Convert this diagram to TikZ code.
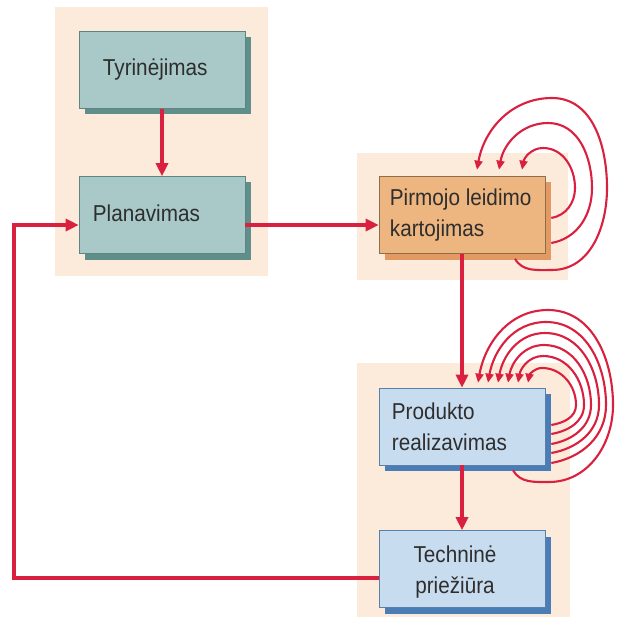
\documentclass[tikz,border=0pt]{standalone}
\usepackage{fontspec}
\newfontfamily\boxfont{Liberation Sans}[FakeStretch=0.9]
\usetikzlibrary{arrows.meta,shadows}

\definecolor{panel}{HTML}{FCEADB}
\definecolor{tealfill}{HTML}{A8C9C8}
\definecolor{tealline}{HTML}{5C8684}
\definecolor{tealshade}{HTML}{5F8E8B}
\definecolor{orangefill}{HTML}{EDB57F}
\definecolor{orangeline}{HTML}{8E6C4C}
\definecolor{orangeshade}{HTML}{E39A62}
\definecolor{bluefill}{HTML}{C8DCF0}
\definecolor{blueline}{HTML}{5A7FA8}
\definecolor{blueshade}{HTML}{4A7DB5}
\definecolor{flowred}{HTML}{D9203F}
\definecolor{ink}{HTML}{2E2E2E}

\begin{document}
\begin{tikzpicture}[x=1pt,y=-1pt,
  box/.style={draw, line width=0.6pt, minimum width=166pt, minimum height=77pt, inner sep=0pt},
  tealbox/.style={box, fill=tealfill, draw=tealline,
    drop shadow={shadow xshift=6pt, shadow yshift=-6pt, fill=tealshade, opacity=1}},
  orangebox/.style={box, fill=orangefill, draw=orangeline,
    drop shadow={shadow xshift=6pt, shadow yshift=-6pt, fill=orangeshade, opacity=1}},
  bluebox/.style={box, fill=bluefill, draw=blueline,
    drop shadow={shadow xshift=6pt, shadow yshift=-6pt, fill=blueshade, opacity=1}},
  boxtext/.style={font=\boxfont\fontsize{23}{31}\selectfont, text=ink, inner sep=0pt, align=left},
  flow/.style={draw=flowred, line width=3.2pt, -{Triangle[length=13pt,width=12pt]}},
  loopback/.style={draw=flowred, line width=2.1pt, -{Triangle[length=9pt,width=8pt]}},
]
\useasboundingbox (0,0) rectangle (616,617);
\fill[white] (0,0) rectangle (616,617);

% background panels
\fill[panel] (55,7) rectangle (268,276);
\fill[panel] (357,153) rectangle (568,280);
\fill[panel] (357,363) rectangle (570,617);

% boxes
\node[tealbox]   (tyr)  at (162,70)    {};
\node[tealbox]   (plan) at (162,215)   {};
\node[orangebox] (pirm) at (462,215)   {};
\node[bluebox]   (prod) at (462,426.5) {};
\node[bluebox]   (tech) at (462,569)   {};

% box captions
\node[boxtext, anchor=west] (tyrtext)  at ([xshift=24pt]tyr.west)  {Tyrinėjimas};
\node[boxtext, anchor=west] (plantext) at ([xshift=14pt,yshift=2pt]plan.west) {Planavimas};
\node[boxtext, anchor=west] (pirmtext) at ([xshift=11pt]pirm.west) {Pirmojo leidimo\\kartojimas};
\node[boxtext, anchor=west] (prodtext) at ([xshift=13pt]prod.west) {Produkto\\realizavimas};
\node[boxtext, align=center] (techtext) at (455,572) {Techninė\\priežiūra};

% main flow
\draw[flow] (tyr) -- (plan);
\draw[flow] ([yshift=-10pt]plan.east) -- ([yshift=-10pt]pirm.west);
\draw[flow] (pirm) -- (prod);
\draw[flow] (prod) -- (tech);
\coordinate (ret) at (14,400);
\draw[flow] ([yshift=-9pt]tech.west) -| (ret) |- ([yshift=-10pt]plan.west);

% repeated iterations of the first release
\draw[loopback] ([xshift=6pt,yshift=-3pt]pirm.east)
  to[out=10,in=-90] (575,188) to[out=90,in=0] (543,148) to[out=180,in=80] ([xshift=60pt,yshift=6.5pt]pirm.north);
\draw[loopback] ([xshift=6pt,yshift=-28pt]pirm.east)
  to[out=10,in=-90] (592,188) to[out=90,in=0] (548,123) to[out=180,in=80] ([xshift=37pt,yshift=6.5pt]pirm.north);
\draw[loopback] ([xshift=53pt,yshift=-5pt]pirm.south)
  to[out=-60,in=180] (552,270) to[out=0,in=-90] (607,188) to[out=90,in=0] (552,98) to[out=180,in=80] ([xshift=15pt,yshift=6.5pt]pirm.north);

% repeated product releases
\draw[loopback] ([xshift=6pt,yshift=1.5pt]prod.east)
  to[out=10,in=-90] (576,405) to[out=90,in=0] (542,368) to[out=180,in=80] ([xshift=66pt,yshift=5pt]prod.north);
\draw[loopback] ([xshift=6pt,yshift=-7.5pt]prod.east)
  to[out=10,in=-90] (584,405) to[out=90,in=0] (543,356) to[out=180,in=80] ([xshift=56pt,yshift=5pt]prod.north);
\draw[loopback] ([xshift=6pt,yshift=-17.5pt]prod.east)
  to[out=10,in=-90] (591,405) to[out=90,in=0] (544,345) to[out=180,in=80] ([xshift=46pt,yshift=5pt]prod.north);
\draw[loopback] ([xshift=6pt,yshift=-26.5pt]prod.east)
  to[out=10,in=-90] (599,405) to[out=90,in=0] (545,333) to[out=180,in=80] ([xshift=36pt,yshift=5pt]prod.north);
\draw[loopback] ([xshift=6pt,yshift=-36.5pt]prod.east)
  to[out=10,in=-90] (606,405) to[out=90,in=0] (546,322) to[out=180,in=80] ([xshift=26pt,yshift=5pt]prod.north);
\draw[loopback] ([xshift=51pt,yshift=-5pt]prod.south)
  to[out=-60,in=180] (549,482) to[out=0,in=-90] (613,405) to[out=90,in=0] (548,310) to[out=180,in=80] ([xshift=16pt,yshift=5pt]prod.north);
\end{tikzpicture}
\end{document}
